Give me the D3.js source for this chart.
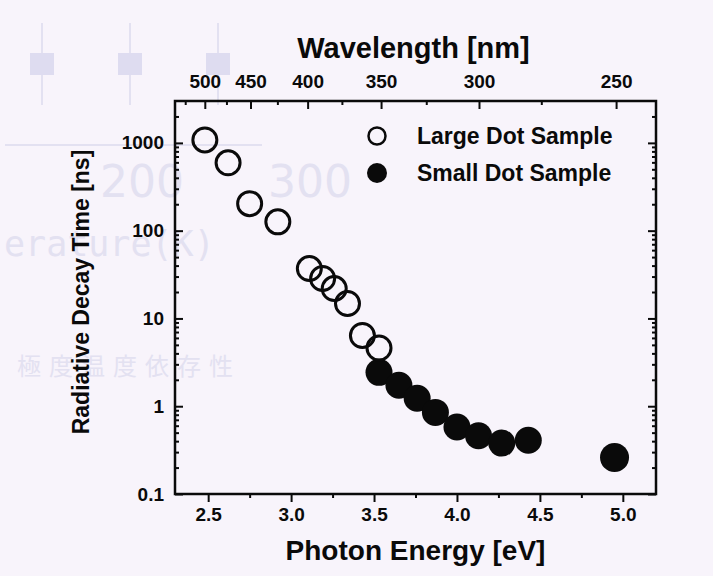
<!DOCTYPE html>
<html>
<head>
<meta charset="utf-8">
<script src="https://cdn.jsdelivr.net/npm/d3@7"></script>
<style>
  html, body { margin: 0; padding: 0; background: #f8f4fb; }
  svg { display: block; font-family: "Liberation Sans", Arial, sans-serif; }
</style>
</head>
<body>
<div id="vis"></div>
<script>
// ── DATA ──────────────────────────────────────────────────────────────────────
const energyLarge = [2.48, 2.62, 2.75, 2.92, 3.11, 3.19, 3.26, 3.34, 3.43, 3.53];
const decayLarge  = [1080, 593, 203, 126, 37, 28.5, 21.9, 14.8, 6.4, 4.6];
const energySmall = [3.53, 3.65, 3.76, 3.87, 4.00, 4.13, 4.27, 4.43, 4.95];
const decaySmall  = [2.43, 1.73, 1.23, 0.85, 0.58, 0.46, 0.38, 0.41, 0.26];

const energyTicks     = [2.5, 3.0, 3.5, 4.0, 4.5, 5.0];
const energyMinor     = [2.75, 3.25, 3.75, 4.25, 4.75];
const wavelengthTicks = [500, 450, 400, 350, 300, 250];
const wavelengthMinor = [525, 475, 425, 375, 325, 275];
const decayTicks      = [0.1, 1, 10, 100, 1000];
const seriesNames     = ["Large Dot Sample", "Small Dot Sample"];

// ── CONFIG ────────────────────────────────────────────────────────────────────
const width  = 713;
const height = 576;
const frame  = {left: 175, right: 656, top: 101, bottom: 494};
const hc     = 1239.84;   // eV·nm
const ink    = "#0a0a0a";
const ghost  = "#e3e1f1";

const svg = d3.select("#vis").append("svg")
    .attr("width", width)
    .attr("height", height);

svg.append("rect").attr("width", width).attr("height", height).attr("fill", "#f8f4fb");

// faint show-through from the other side of the page
const bg = svg.append("g");
[42, 130, 218].forEach(cx => {
  bg.append("line").attr("x1", cx).attr("x2", cx).attr("y1", 23).attr("y2", 105)
    .attr("stroke", ghost).attr("stroke-width", 2);
  bg.append("rect").attr("x", cx - 12).attr("y", 53).attr("width", 24).attr("height", 22)
    .attr("fill", "#dedcf0");
});
bg.append("line").attr("x1", 5).attr("x2", 262).attr("y1", 145).attr("y2", 145)
  .attr("stroke", ghost).attr("stroke-width", 2);
bg.append("text").attr("x", 100).attr("y", 197).text("200")
  .attr("fill", ghost).style("font", "44px 'DejaVu Sans'");
bg.append("text").attr("x", 268).attr("y", 197).text("300")
  .attr("fill", ghost).style("font", "44px 'DejaVu Sans'");
bg.append("text").attr("x", 4).attr("y", 256).text("erature(K)")
  .attr("fill", ghost).style("font", "35px 'DejaVu Sans Mono'");
bg.append("text").attr("x", 17).attr("y", 375).text("極度温度依存性")
  .attr("fill", ghost).attr("letter-spacing", 8).style("font", "24px 'Noto Sans CJK JP'");

// ── SCALES ────────────────────────────────────────────────────────────────────
const x = d3.scaleLinear([2.3, 5.2], [frame.left, frame.right]);
const y = d3.scaleLog([0.1, 3000], [frame.bottom, frame.top]);

const yMinor = [];
decayTicks.forEach(d => d3.range(2, 10).forEach(m => { if (d * m < 3000) yMinor.push(d * m); }));

function styleAxis(g) {
  g.select(".domain").remove();
  g.selectAll(".tick line").attr("stroke", ink).attr("stroke-width", 2);
  g.selectAll(".tick text").attr("fill", ink)
    .style("font", "bold 19px 'Liberation Sans', Arial, sans-serif");
}

// bottom axis (ticks outward)
svg.append("g").attr("transform", `translate(0,${frame.bottom})`)
  .call(d3.axisBottom(x).tickValues(energyTicks).tickFormat(d3.format(".1f")).tickSize(8).tickPadding(6))
  .call(styleAxis);
svg.append("g").attr("transform", `translate(0,${frame.bottom})`)
  .call(d3.axisBottom(x).tickValues(energyMinor).tickFormat("").tickSize(4))
  .call(styleAxis);

// top axis: wavelength (ticks inward)
const toE = l => hc / l;
svg.append("g").attr("transform", `translate(0,${frame.top})`)
  .call(d3.axisTop(x).tickValues(wavelengthTicks.map(toE))
    .tickFormat(e => Math.round(hc / e / 10) * 10).tickSize(-8).tickPadding(13))
  .call(styleAxis);
svg.append("g").attr("transform", `translate(0,${frame.top})`)
  .call(d3.axisTop(x).tickValues(wavelengthMinor.map(toE)).tickFormat("").tickSize(-4))
  .call(styleAxis);

// left axis (ticks inward)
svg.append("g").attr("transform", `translate(${frame.left},0)`)
  .call(d3.axisLeft(y).tickValues(decayTicks).tickFormat(d => d).tickSize(-8).tickPadding(11))
  .call(styleAxis);
svg.append("g").attr("transform", `translate(${frame.left},0)`)
  .call(d3.axisLeft(y).tickValues(yMinor).tickFormat("").tickSize(-4))
  .call(styleAxis);

// right axis (ticks inward, no labels)
svg.append("g").attr("transform", `translate(${frame.right},0)`)
  .call(d3.axisRight(y).tickValues(decayTicks).tickFormat("").tickSize(-8))
  .call(styleAxis);
svg.append("g").attr("transform", `translate(${frame.right},0)`)
  .call(d3.axisRight(y).tickValues(yMinor).tickFormat("").tickSize(-4))
  .call(styleAxis);

// frame
svg.append("rect")
  .attr("x", frame.left).attr("y", frame.top)
  .attr("width", frame.right - frame.left).attr("height", frame.bottom - frame.top)
  .attr("fill", "none").attr("stroke", ink).attr("stroke-width", 2.5);

// ── AXIS TITLES ───────────────────────────────────────────────────────────────
svg.append("text")
  .attr("x", (frame.left + frame.right) / 2 - 2).attr("y", 58)
  .attr("text-anchor", "middle").attr("fill", ink)
  .style("font", "bold 29px 'Liberation Sans', Arial, sans-serif")
  .text("Wavelength [nm]");

svg.append("text")
  .attr("x", (frame.left + frame.right) / 2).attr("y", 560)
  .attr("text-anchor", "middle").attr("fill", ink)
  .style("font", "bold 28px 'Liberation Sans', Arial, sans-serif")
  .text("Photon Energy [eV]");

svg.append("text")
  .attr("transform", "translate(89,292) rotate(-90)")
  .attr("text-anchor", "middle").attr("fill", ink)
  .style("font", "bold 23px 'Liberation Sans', Arial, sans-serif")
  .text("Radiative Decay Time [ns]");

// ── POINTS ────────────────────────────────────────────────────────────────────
const small = energySmall.map((e, i) => ({e, v: decaySmall[i]}));
const large = energyLarge.map((e, i) => ({e, v: decayLarge[i]}));

svg.append("g").selectAll("circle")
  .data(small)
  .join("circle")
    .attr("cx", d => x(d.e))
    .attr("cy", d => y(d.v))
    .attr("r", d => d.e > 4.9 ? 14.5 : 13.5)
    .attr("fill", ink);

svg.append("g").selectAll("circle")
  .data(large)
  .join("circle")
    .attr("cx", d => x(d.e))
    .attr("cy", d => y(d.v))
    .attr("r", 12)
    .attr("fill", "none")
    .attr("stroke", ink)
    .attr("stroke-width", 3);

// ── LEGEND ────────────────────────────────────────────────────────────────────
const legend = svg.append("g").attr("transform", "translate(377,136)");
seriesNames.forEach((name, i) => {
  const row = legend.append("g").attr("transform", `translate(0,${i * 37})`);
  row.append("circle")
    .attr("r", i === 0 ? 8.5 : 10)
    .attr("fill", i === 0 ? "none" : ink)
    .attr("stroke", i === 0 ? ink : "none")
    .attr("stroke-width", 2.5);
  row.append("text")
    .attr("x", 40).attr("dy", "0.36em").attr("fill", ink)
    .style("font", "bold 23px 'Liberation Sans', Arial, sans-serif")
    .text(name);
});
</script>
</body>
</html>
